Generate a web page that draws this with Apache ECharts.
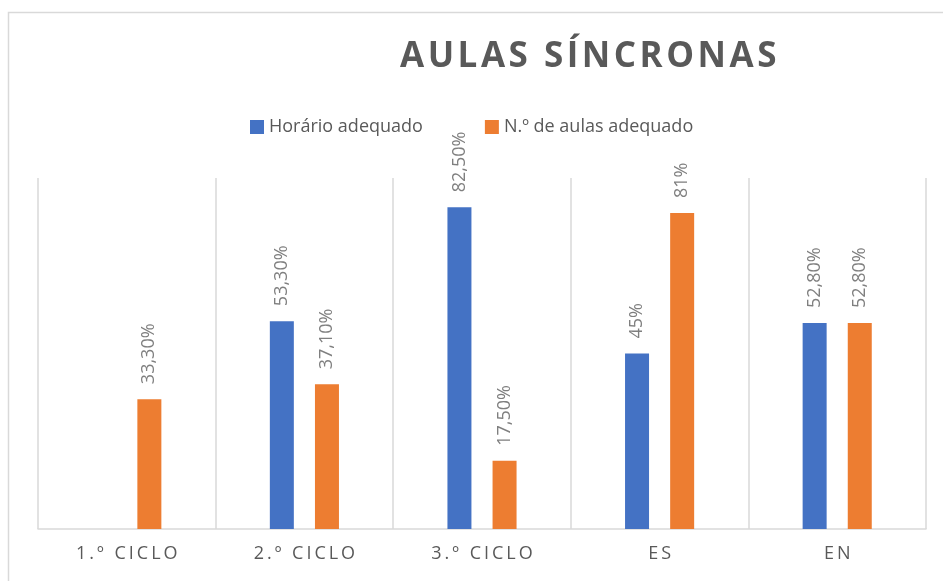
<!DOCTYPE html>
<html>
<head>
<meta charset="utf-8">
<script src="https://cdn.jsdelivr.net/npm/echarts@6/dist/echarts.min.js"></script>
<style>
  html, body { margin: 0; padding: 0; background: #fff; }
  #chart { width: 943px; height: 581px; }
</style>
</head>
<body>
<div id="chart"></div>
<script>
// dados
var categorias = ["1.º CICLO", "2.º CICLO", "3.º CICLO", "ES", "EN"];
var horarioAdequado = [null, 53.3, 82.5, 45, 52.8];
var aulasAdequado = [33.3, 37.1, 17.5, 81, 52.8];
var nomesSeries = ["Horário adequado", "N.º de aulas adequado"];
var titulo = "AULAS SÍNCRONAS";

// espaçamento entre letras (o canvas do echarts não tem letterSpacing)
function espacar(txt, sep) {
  return txt.split("").join(sep);
}

// 33.3 -> "33,30%", 81 -> "81%"
function pct(v) {
  if (v == null) return "";
  var s = Number.isInteger(v) ? String(v) : v.toFixed(2);
  return s.replace(".", ",") + "%";
}

var mychart = echarts.init(document.getElementById("chart"));
var fonte = "'Open Sans', 'Noto Sans', sans-serif";

var rotulo = {
  show: true,
  position: "top",
  rotate: 90,
  align: "left",
  verticalAlign: "middle",
  distance: 15,
  color: "#7f7f7f",
  fontSize: 18,
  fontFamily: fonte,
  formatter: function (p) { return pct(p.value); },
};

var option = {
  backgroundColor: "#fff",
  color: ["#4472C4", "#ED7D31"],
  textStyle: { fontFamily: fonte },
  title: {
    text: espacar(titulo, "\u200A"),
    left: 400,
    top: 40,
    padding: 0,
    textStyle: {
      color: "#595959",
      fontSize: 35,
      fontWeight: "bold",
      fontFamily: fonte,
    },
  },
  legend: {
    left: 250,
    top: 118,
    padding: 0,
    icon: "rect",
    itemWidth: 14,
    itemHeight: 14,
    itemGap: 62,
    textStyle: { color: "#595959", fontSize: 18, fontFamily: fonte },
    data: nomesSeries,
  },
  graphic: [
    {
      type: "rect",
      shape: { x: 8.5, y: 12.5, width: 1200, height: 1200 },
      style: { fill: "none", stroke: "#d9d9d9", lineWidth: 1.5 },
      silent: true,
      z: -1,
    },
  ],
  grid: { left: 38, right: 17, top: 178, bottom: 52, containLabel: false },
  xAxis: {
    type: "category",
    data: categorias,
    axisTick: { show: false },
    axisLine: { show: true, lineStyle: { color: "#d9d9d9", width: 1.5 } },
    splitLine: { show: true, lineStyle: { color: "#d9d9d9", width: 1.5 } },
    axisLabel: {
      color: "#595959",
      fontSize: 18,
      fontFamily: fonte,
      margin: 16,
      formatter: function (v) { return espacar(v, "\u2009"); },
    },
  },
  yAxis: {
    type: "value",
    min: 0,
    max: 90,
    show: false,
    splitLine: { show: false },
  },
  series: [
    {
      name: nomesSeries[0],
      type: "bar",
      barWidth: 24,
      barGap: "88%",
      data: horarioAdequado,
      label: rotulo,
    },
    {
      name: nomesSeries[1],
      type: "bar",
      barWidth: 24,
      barGap: "88%",
      data: aulasAdequado,
      label: rotulo,
    },
  ],
};

mychart.setOption(option);
</script>
</body>
</html>
